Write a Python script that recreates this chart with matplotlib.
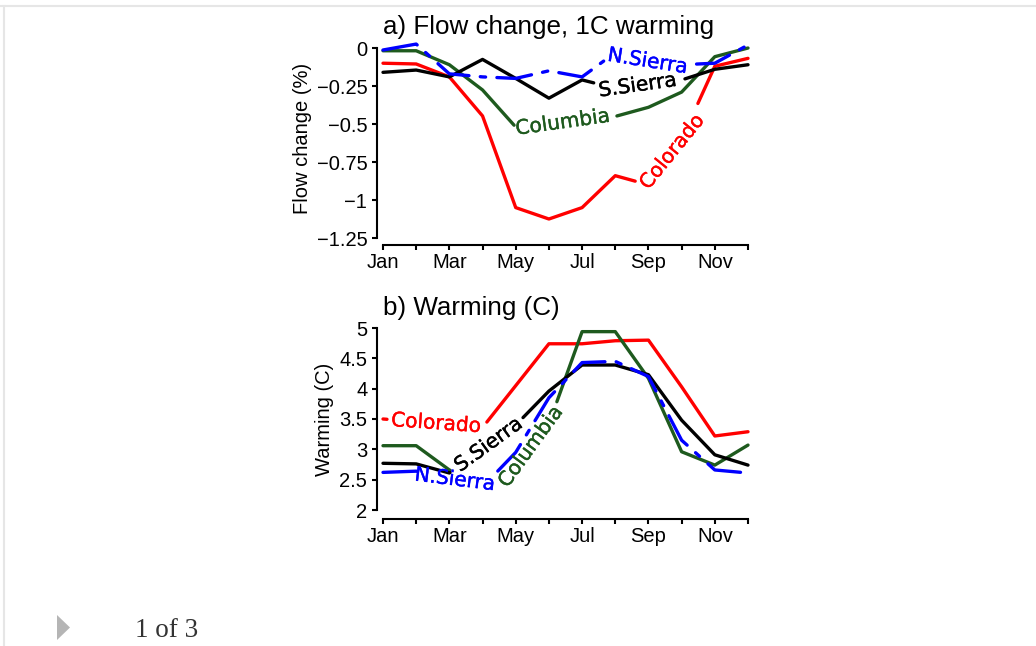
import matplotlib

matplotlib.use("Agg")
import matplotlib.pyplot as plt
import matplotlib.patheffects as pe
import numpy as np
from matplotlib.lines import Line2D
from matplotlib.patches import Polygon

W, H = 1036, 646

MONTHS = np.arange(1, 13)
MONTH_LABELS = ["Jan", "", "Mar", "", "May", "", "Jul", "", "Sep", "", "Nov", ""]

# a) flow change per 1C warming (%)
FLOW_COLORADO = [-0.10, -0.105, -0.19, -0.447, -1.05, -1.125, -1.05, -0.84, -0.90, -0.60, -0.12, -0.068]
FLOW_COLUMBIA = [-0.018, -0.018, -0.11, -0.276, -0.52, -0.50, -0.48, -0.45, -0.39, -0.29, -0.057, 0.0]
FLOW_SSIERRA = [-0.16, -0.145, -0.19, -0.075, -0.20, -0.33, -0.21, -0.265, -0.24, -0.21, -0.14, -0.11]
FLOW_NSIERRA = [-0.013, 0.026, -0.17, -0.19, -0.20, -0.15, -0.19, -0.03, -0.09, -0.11, -0.10, 0.02]
FLOW_TICKS = [0, -0.25, -0.5, -0.75, -1, -1.25]
FLOW_TICK_LABELS = ["0", "\u22120.25", "\u22120.5", "\u22120.75", "\u22121", "\u22121.25"]

# b) warming (C)
WARM_COLORADO = [3.50, 3.46, 3.40, 3.36, 4.05, 4.74, 4.74, 4.79, 4.80, 4.03, 3.22, 3.29]
WARM_COLUMBIA = [3.06, 3.06, 2.66, 2.45, 2.72, 3.42, 4.94, 4.94, 4.17, 2.96, 2.74, 3.07]
WARM_SSIERRA = [2.77, 2.76, 2.61, 3.00, 3.40, 3.96, 4.39, 4.39, 4.23, 3.48, 2.91, 2.74]
WARM_NSIERRA = [2.62, 2.64, 2.52, 2.38, 2.95, 3.85, 4.43, 4.45, 4.20, 3.15, 2.66, 2.61]
WARM_TICKS = [5, 4.5, 4, 3.5, 3, 2.5, 2]
WARM_TICK_LABELS = ["5", "4.5", "4", "3.5", "3", "2.5", "2"]

RED = "#ff0000"
GREEN = "#1e5a1e"
BLACK = "#000000"
BLUE = "#0000ff"
BLUE_DASHES = (10.5, 3.4, 1.6, 3.4)

AXFONT = "Liberation Sans"
LABFONT = "DejaVu Sans"

# (text, label centre month, gap start, gap end, angle)
FLOW_LABELS = {
    "Colorado": ("Colorado", 9.72, 8.6, 10.49, 51),
    "Columbia": ("Columbia", 6.42, 4.95, 8.05, 8),
    "S.Sierra": ("S.Sierra", 8.68, 7.35, 10.1, 8),
    "N.Sierra": ("N.Sierra", 8.98, 7.65, 10.45, -9),
}
WARM_LABELS = {
    "Colorado": ("Colorado", 2.6, 1.12, 4.13, -4),
    "Columbia": ("Columbia", 5.46, 3.02, 6.24, 54),
    "S.Sierra": ("S.Sierra", 4.19, 3.02, 5.22, 36),
    "N.Sierra": ("N.Sierra", 3.17, 2.02, 4.46, -7),
}


def px_rect(left, top, right, bottom):
    return [left / W, 1 - bottom / H, (right - left) / W, (bottom - top) / H]


def labelled_line(ax, y, color, label, dashes=None):
    """Draw a curve with a gap and put its name in the gap, R labcurve style."""
    text, x_mid, gap_lo, gap_hi, angle = label
    x = MONTHS.astype(float)
    y = np.asarray(y, float)
    left = x < gap_lo
    right = x > gap_hi
    pieces = [
        (np.append(x[left], gap_lo), np.append(y[left], np.interp(gap_lo, x, y))),
        (np.insert(x[right], 0, gap_hi), np.insert(y[right], 0, np.interp(gap_hi, x, y))),
    ]
    for xs, ys in pieces:
        (ln,) = ax.plot(xs, ys, color=color, lw=2.4, clip_on=False,
                        solid_capstyle="round", dash_capstyle="round",
                        solid_joinstyle="round")
        if dashes is not None:
            ln.set_dashes(dashes)
    ax.text(x_mid, np.interp(x_mid, x, y), text, color=color, fontsize=14.5,
            family=LABFONT, rotation=angle, rotation_mode="anchor",
            ha="center", va="center",
            path_effects=[pe.withStroke(linewidth=0.3, foreground=color)])


def style_axes(ax, yticks, yticklabels, ylim, bottom_out):
    ax.set_xlim(1, 12)
    ax.set_ylim(*ylim)
    for side in ("top", "right"):
        ax.spines[side].set_visible(False)
    ax.spines["left"].set_position(("outward", 4.5))
    ax.spines["bottom"].set_position(("outward", bottom_out))
    ax.spines["left"].set_bounds(min(yticks), max(yticks))
    ax.spines["bottom"].set_bounds(1, 12)
    for side in ("left", "bottom"):
        ax.spines[side].set_linewidth(1.5)
    ax.set_xticks(MONTHS)
    ax.set_xticklabels(MONTH_LABELS, family=AXFONT, fontsize=14.5)
    ax.set_yticks(yticks)
    ax.set_yticklabels(yticklabels, family=AXFONT, fontsize=14.5)
    ax.tick_params(axis="both", direction="out", length=3.8, width=1.5)
    ax.tick_params(axis="y", pad=3)
    ax.tick_params(axis="x", pad=2)
    ax.patch.set_visible(False)


fig = plt.figure(figsize=(W / 100, H / 100), dpi=100)

ax_a = fig.add_axes(px_rect(383, 38.9, 748, 238))
style_axes(ax_a, FLOW_TICKS, FLOW_TICK_LABELS, (-1.25, 0.06), 5)
labelled_line(ax_a, FLOW_COLORADO, RED, FLOW_LABELS["Colorado"])
labelled_line(ax_a, FLOW_COLUMBIA, GREEN, FLOW_LABELS["Columbia"])
labelled_line(ax_a, FLOW_SSIERRA, BLACK, FLOW_LABELS["S.Sierra"])
labelled_line(ax_a, FLOW_NSIERRA, BLUE, FLOW_LABELS["N.Sierra"], BLUE_DASHES)
ax_a.set_title("a) Flow change, 1C warming", loc="left", family=AXFONT,
               fontsize=18.7, pad=3.5)
ax_a.set_ylabel("Flow change (%)", family=AXFONT, fontsize=14.5, labelpad=3)

ax_b = fig.add_axes(px_rect(383, 328, 748, 510))
style_axes(ax_b, WARM_TICKS, WARM_TICK_LABELS, (2, 5), 6.5)
labelled_line(ax_b, WARM_COLORADO, RED, WARM_LABELS["Colorado"])
labelled_line(ax_b, WARM_COLUMBIA, GREEN, WARM_LABELS["Columbia"])
labelled_line(ax_b, WARM_SSIERRA, BLACK, WARM_LABELS["S.Sierra"])
labelled_line(ax_b, WARM_NSIERRA, BLUE, WARM_LABELS["N.Sierra"], BLUE_DASHES)
ax_b.set_title("b) Warming (C)", loc="left", family=AXFONT, fontsize=18.7, pad=9)
ax_b.set_ylabel("Warming (C)", family=AXFONT, fontsize=14.5, labelpad=4)

# page furniture: frame lines, pager arrow and counter
fig.add_artist(Line2D([0, 1], [1 - 6 / H] * 2, color="#e6e6e6", lw=1.5))
fig.add_artist(Line2D([4 / W] * 2, [0, 1 - 6 / H], color="#e6e6e6", lw=1.5))
fig.add_artist(Polygon([(57 / W, 1 - 615 / H), (57 / W, 1 - 640 / H), (70 / W, 1 - 627.5 / H)],
                       closed=True, transform=fig.transFigure, color="#b5b5b5", lw=0))
fig.text(135 / W, 1 - 637 / H, "1 of 3", family="Liberation Serif", fontsize=19.5,
         color="#333333", va="baseline", ha="left")

fig.savefig("out.png", dpi=100)
